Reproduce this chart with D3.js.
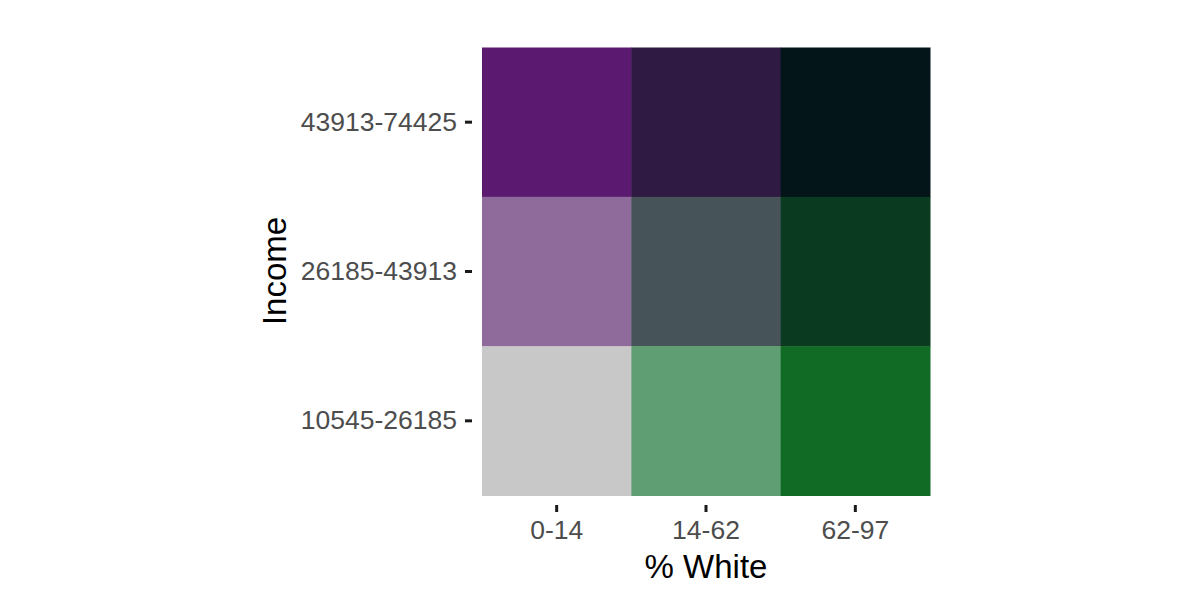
<!DOCTYPE html>
<html>
<head>
<meta charset="utf-8">
<script src="https://cdn.jsdelivr.net/npm/d3@7"></script>
<style>
  html, body { margin: 0; padding: 0; background: #ffffff; }
  svg { display: block; }
</style>
</head>
<body>
<svg id="chart" width="1200" height="600"></svg>
<script>
// Categories
const whiteCats = ["0-14", "14-62", "62-97"];
const incomeCats = ["10545-26185", "26185-43913", "43913-74425"];
// Cell fill per (white, income)
const cellWhite = ["0-14","14-62","62-97","0-14","14-62","62-97","0-14","14-62","62-97"];
const cellIncome = ["43913-74425","43913-74425","43913-74425","26185-43913","26185-43913","26185-43913","10545-26185","10545-26185","10545-26185"];
const cellColor = ["#5b1a70","#2e1a42","#031519","#8f6b9c","#465459","#0a3a1f","#c8c8c8","#5f9e72","#116b24"];

const cells = cellWhite.map((w, i) => ({ white: w, income: cellIncome[i], color: cellColor[i] }));

const svg = d3.select("#chart");
const font = "'Liberation Sans', Arial, Helvetica, sans-serif";

const x = d3.scaleBand().domain(whiteCats).range([482, 930]).padding(0);
const y = d3.scaleBand().domain(incomeCats.slice().reverse()).range([47.5, 495.5]).padding(0);

svg.append("g").selectAll("rect").data(cells).join("rect")
  .attr("x", d => x(d.white))
  .attr("y", d => y(d.income))
  .attr("width", x.bandwidth() + 0.5)
  .attr("height", y.bandwidth() + 0.5)
  .attr("fill", d => d.color);

// X axis
const gx = svg.append("g")
  .attr("transform", "translate(0,505)")
  .call(d3.axisBottom(x).tickSize(7).tickSizeOuter(0).tickPadding(8));
gx.select(".domain").remove();
gx.selectAll(".tick line").attr("stroke", "#1a1a1a").attr("stroke-width", 3);
gx.selectAll(".tick text").attr("fill", "#4d4d4d").style("font-family", font).style("font-size", "26.5px");

// Y axis
const gy = svg.append("g")
  .attr("transform", "translate(472,0)")
  .call(d3.axisLeft(y).tickSize(7).tickSizeOuter(0).tickPadding(8));
gy.select(".domain").remove();
gy.selectAll(".tick line").attr("stroke", "#1a1a1a").attr("stroke-width", 3);
gy.selectAll(".tick text").attr("fill", "#4d4d4d").style("font-family", font).style("font-size", "26.5px");

// Axis titles
svg.append("text")
  .attr("x", 706).attr("y", 578)
  .attr("text-anchor", "middle")
  .style("font-family", font).style("font-size", "33px").attr("fill", "#000")
  .text("% White");

svg.append("text")
  .attr("transform", "translate(286,271) rotate(-90)")
  .attr("text-anchor", "middle")
  .style("font-family", font).style("font-size", "33px").attr("fill", "#000")
  .text("Income");
</script>
</body>
</html>
